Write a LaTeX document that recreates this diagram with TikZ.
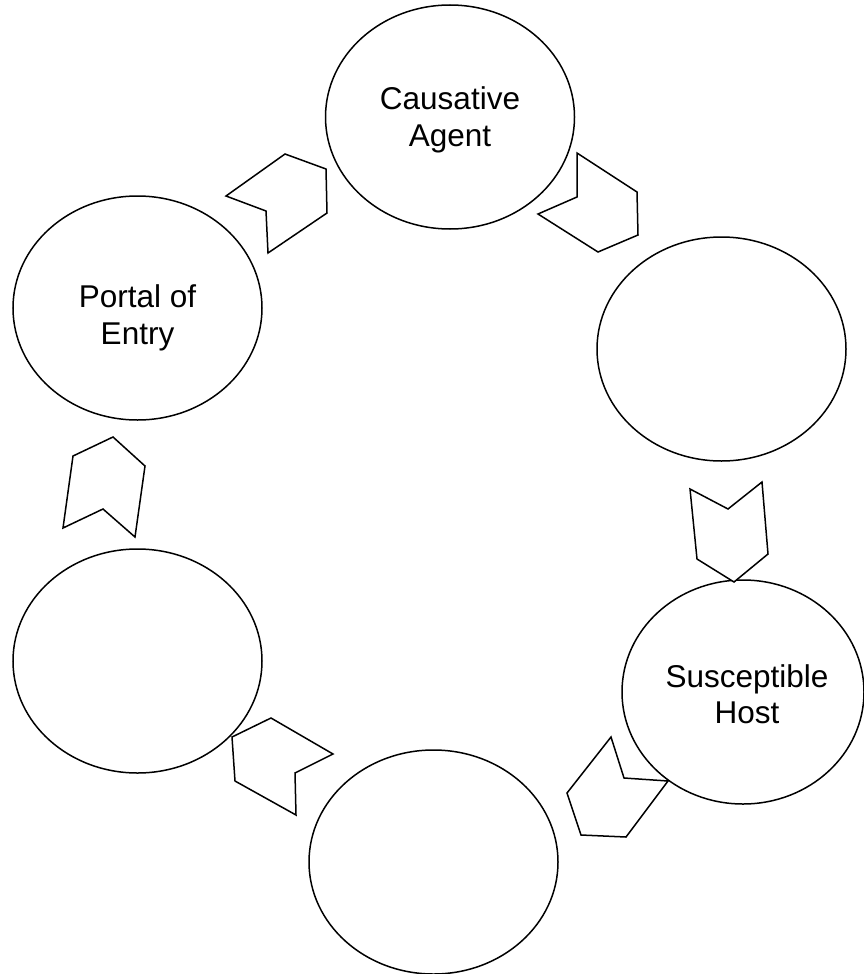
\documentclass[tikz,border=0pt]{standalone}
\usepackage{fontspec}
\setmainfont{Liberation Sans}
\usetikzlibrary{shapes.geometric}
\begin{document}
\begin{tikzpicture}[x=1pt,y=-1pt,
  stage/.style={draw=black,line width=1.5pt,ellipse,inner sep=0pt,
    minimum width=249pt,minimum height=224pt},
  stagetext/.style={align=center,font=\fontsize{31.5}{36.5}\selectfont},
  chev/.style={draw=black,line width=1.5pt,line join=miter,fill=white}]
\useasboundingbox (0,0) rectangle (864,974);
\node[stage] (agent) at (450,117) {};
\node[stagetext] (agenttext) at (450,120) {Causative\\Agent};
\node[stage] (reservoir) at (721.5,349) {};
\node[stage,minimum width=242pt] (host) at (743,692) {};
\node[stagetext] (hosttext) at (747,694) {Susceptible\\Host};
\node[stage] (exitnode) at (433.5,862) {};
\node[stage] (transmit) at (137.5,661) {};
\node[stage] (portal) at (137.5,308) {};
\node[stagetext] (portaltext) at (137.5,318) {Portal of\\Entry};
% chevrons
\draw[chev] (285,154) -- (326,169) -- (327,213) -- (268,253) -- (266,211) -- (226,196) -- cycle;
\draw[chev] (577,153) -- (637,192) -- (638,235) -- (598,252) -- (538,214) -- (577,197) -- cycle;
\draw[chev] (690,489) -- (728,509) -- (762,482) -- (768,554) -- (734,582) -- (697,559) -- cycle;
\draw[chev] (611,737) -- (624,778) -- (668,781) -- (626,837) -- (581,835) -- (567,793) -- cycle;
\draw[chev] (232,737) -- (271,718) -- (333,754) -- (295,773) -- (296,815) -- (235,781) -- cycle;
\draw[chev] (73,456) -- (113,437) -- (145,466) -- (135,537) -- (103,509) -- (63,528) -- cycle;
\end{tikzpicture}
\end{document}
